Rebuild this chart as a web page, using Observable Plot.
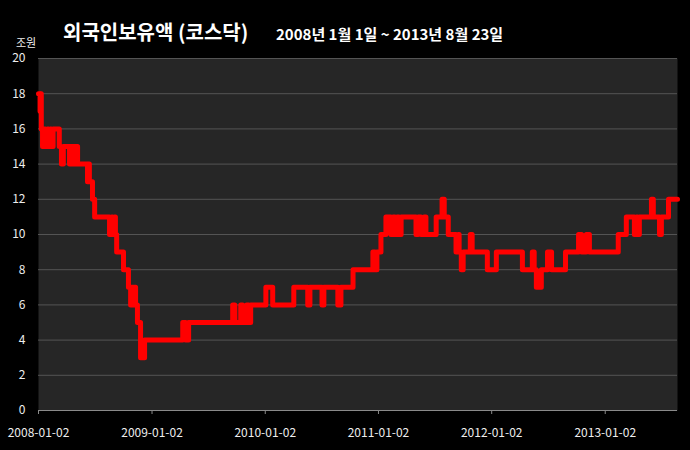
<!DOCTYPE html>
<html>
<head>
<meta charset="utf-8">
<script src="https://cdn.jsdelivr.net/npm/d3@7"></script>
<script src="https://cdn.jsdelivr.net/npm/@observablehq/plot@0.6"></script>
<style>
  html, body { margin: 0; padding: 0; background: #000; }
  #wrap { position: relative; width: 690px; height: 450px; background: #000; overflow: hidden; }
  .t { position: absolute; color: #fff; font-family: "Noto Sans CJK KR", sans-serif; white-space: nowrap; }
  #title { left: 63px; top: 22px; font-size: 20px; line-height: 20px; font-weight: 700; }
  #sub { left: 276px; top: 26px; font-size: 15px; line-height: 15px; font-weight: 700; }
  #unit { left: 16px; top: 37px; font-size: 11px; line-height: 11px; color: #eee; }
  #chart { position: absolute; left: 0; top: 0; }
</style>
</head>
<body>
<div id="wrap">
  <div id="chart"></div>
  <div class="t" id="title">외국인보유액 (코스닥)</div>
  <div class="t" id="sub">2008년 1월 1일 ~ 2013년 8월 23일</div>
  <div class="t" id="unit">조원</div>
</div>
<script>
// Change points of the step series (date, holdings in 조원)
const dates = [
  "2008-01-02","2008-01-07","2008-01-09","2008-01-11","2008-01-15","2008-01-21","2008-01-24","2008-01-31",
  "2008-02-03","2008-02-09","2008-02-12","2008-02-18","2008-03-09","2008-03-16","2008-03-22","2008-04-11",
  "2008-04-14","2008-04-20","2008-04-24","2008-04-30","2008-05-03","2008-05-07","2008-06-08","2008-06-11",
  "2008-06-14","2008-06-24","2008-07-01","2008-08-18","2008-08-25","2008-08-28","2008-09-03","2008-09-06",
  "2008-09-10","2008-10-02","2008-10-18","2008-10-25","2008-10-28","2008-11-03","2008-11-07","2008-11-10",
  "2008-11-16","2008-11-26","2008-12-09","2009-04-11","2009-04-20","2009-04-30","2009-09-19","2009-09-26",
  "2009-10-15","2009-10-21","2009-11-03","2009-11-10","2009-11-16","2010-01-04","2010-01-26","2010-04-04",
  "2010-05-19","2010-05-26","2010-07-04","2010-07-10","2010-08-24","2010-09-03","2010-10-12","2010-12-15",
  "2010-12-22","2010-12-28","2011-01-10","2011-01-26","2011-02-11","2011-02-18","2011-02-24","2011-03-03",
  "2011-03-09","2011-03-16","2011-05-03","2011-05-10","2011-05-19","2011-05-29","2011-06-04","2011-07-07",
  "2011-07-26","2011-08-02","2011-08-15","2011-09-09","2011-09-16","2011-09-19","2011-09-26","2011-10-02",
  "2011-10-25","2011-10-31","2011-12-19","2012-01-17","2012-04-10","2012-05-12","2012-05-18","2012-05-25",
  "2012-06-10","2012-06-30","2012-07-13","2012-08-27","2012-10-08","2012-10-18","2012-11-02","2012-11-12",
  "2013-02-13","2013-03-11","2013-04-06","2013-04-13","2013-04-16","2013-04-22","2013-05-31","2013-06-06",
  "2013-06-26","2013-07-02","2013-07-25","2013-08-23"
];
const values = [
  18,17,18,16,15,16,15,16,
  15,16,15,16,15,14,15,14,
  15,14,15,14,15,14,13,14,
  13,12,11,10,11,10,11,10,
  9,8,7,6,7,6,7,6,
  5,3,4,5,4,5,6,5,
  6,5,6,5,6,7,6,7,
  6,7,6,7,6,7,8,9,
  8,9,10,11,10,11,10,11,
  10,11,10,11,10,11,10,11,
  12,11,10,9,10,9,8,9,
  10,9,8,9,8,9,8,7,
  8,9,8,9,10,9,10,9,
  10,11,10,11,10,11,12,11,
  10,11,12,12
];
const xDomain = ["2008-01-02", "2013-08-23"];
const xTicks = ["2008-01-02","2009-01-02","2010-01-02","2011-01-02","2012-01-02","2013-01-02"];
const yTicks = [0,2,4,6,8,10,12,14,16,18,20];

const data = dates.map((d, i) => ({date: new Date(d), value: values[i]}));

const chart = Plot.plot({
  width: 690,
  height: 450,
  marginLeft: 38,
  marginRight: 13,
  marginTop: 58,
  marginBottom: 40,
  style: {background: "#000", color: "#eee", fontFamily: "'Noto Sans CJK KR', sans-serif", fontSize: "12px"},
  x: {type: "utc", domain: xDomain.map(d => new Date(d))},
  y: {domain: [0, 20]},
  marks: [
    Plot.frame({fill: "#262626", stroke: null}),
    Plot.gridY(yTicks, {stroke: "#545454", strokeOpacity: 1}),
    Plot.ruleY([0], {stroke: "#8a8a8a"}),
    Plot.axisY(yTicks, {tickSize: 0, tickPadding: 13, label: null, fill: "#eee"}),
    Plot.axisX(xTicks.map(d => new Date(d)), {tickSize: 4, tickPadding: 14, stroke: "#8a8a8a", label: null, fill: "#eee", tickFormat: d3.utcFormat("%Y-%m-%d")}),
    Plot.line(data, {x: "date", y: "value", curve: "step-after", stroke: "#ff0000", strokeWidth: 5, strokeLinejoin: "round"})
  ]
});
document.getElementById("chart").appendChild(chart);
</script>
</body>
</html>
